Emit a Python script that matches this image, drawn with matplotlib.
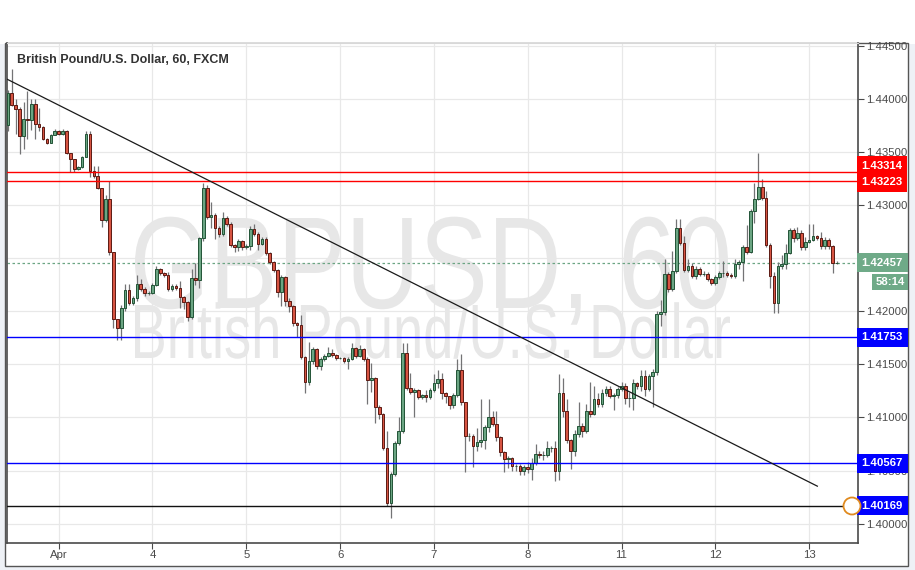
import numpy as np
import matplotlib
matplotlib.use("Agg")
import matplotlib.pyplot as plt
from matplotlib.patches import Rectangle, PathPatch, Circle
from matplotlib.textpath import TextPath
from matplotlib.font_manager import FontProperties
from matplotlib.transforms import Affine2D, blended_transform_factory

# GBPUSD hourly candles, Mar 31 - Apr 13 (weekend skipped)
first_open = 1.4375
closes = [
    1.4405, 1.4394, 1.4390, 1.4365, 1.4381, 1.4380, 1.4395, 1.4376, 1.4373, 1.4362,
    1.4358, 1.4366, 1.4370, 1.4367, 1.4370, 1.4349, 1.4343, 1.4334, 1.4336, 1.4345,
    1.4367, 1.4332, 1.4327, 1.4316, 1.4286, 1.4306, 1.4256, 1.4193, 1.4184, 1.4203,
    1.4220, 1.4208, 1.4212, 1.4226, 1.4221, 1.4217, 1.4217, 1.4225, 1.4240, 1.4236,
    1.4234, 1.4221, 1.4224, 1.4222, 1.4213, 1.4209, 1.4195, 1.4231, 1.4229, 1.4269,
    1.4316, 1.4289, 1.4291, 1.4278, 1.4273, 1.4288, 1.4282, 1.4262, 1.4260, 1.4266,
    1.4260, 1.4261, 1.4277, 1.4273, 1.4263, 1.4268, 1.4255, 1.4246, 1.4239, 1.4218,
    1.4232, 1.4210, 1.4205, 1.4189, 1.4187, 1.4157, 1.4133, 1.4153, 1.4164, 1.4148,
    1.4155, 1.4158, 1.4161, 1.4159, 1.4156, 1.4156, 1.4153, 1.4155, 1.4165, 1.4158,
    1.4164, 1.4155, 1.4135, 1.4137, 1.4110, 1.4103, 1.4071, 1.4019, 1.4047, 1.4076,
    1.4087, 1.4161, 1.4128, 1.4124, 1.4126, 1.4119, 1.4121, 1.4119, 1.4126, 1.4132,
    1.4136, 1.4123, 1.4120, 1.4112, 1.4121, 1.4145, 1.4115, 1.4083, 1.4083, 1.4073,
    1.4077, 1.4079, 1.4091, 1.4100, 1.4094, 1.4082, 1.4067, 1.4061, 1.4062, 1.4054,
    1.4054, 1.4050, 1.4053, 1.4051, 1.4057, 1.4066, 1.4065, 1.4065, 1.4071, 1.4071,
    1.4050, 1.4123, 1.4106, 1.4079, 1.4068, 1.4084, 1.4092, 1.4087, 1.4106, 1.4103,
    1.4117, 1.4113, 1.4123, 1.4127, 1.4120, 1.4121, 1.4127, 1.4130, 1.4118, 1.4118,
    1.4132, 1.4130, 1.4139, 1.4127, 1.4139, 1.4143, 1.4197, 1.4199, 1.4235, 1.4221,
    1.4238, 1.4278, 1.4264, 1.4239, 1.4243, 1.4233, 1.4240, 1.4235, 1.4235, 1.4230,
    1.4227, 1.4232, 1.4236, 1.4236, 1.4234, 1.4233, 1.4244, 1.4246, 1.4260, 1.4256,
    1.4294, 1.4306, 1.4317, 1.4307, 1.4262, 1.4233, 1.4208, 1.4243, 1.4244, 1.4255,
    1.4276, 1.4269, 1.4274, 1.4260, 1.4265, 1.4267, 1.4271, 1.4269, 1.4261, 1.4267,
    1.4261, 1.4245, 1.42457]
highs = [
    1.4408, 1.4428, 1.4400, 1.4392, 1.4397, 1.4407, 1.4400, 1.4400, 1.4391, 1.4374,
    1.4363, 1.4367, 1.4372, 1.4371, 1.4372, 1.4371, 1.4349, 1.4343, 1.4337, 1.4346,
    1.4370, 1.4370, 1.4337, 1.4337, 1.4316, 1.4309, 1.4323, 1.4256, 1.4193, 1.4206,
    1.4226, 1.4226, 1.4214, 1.4234, 1.4230, 1.4223, 1.4219, 1.4227, 1.4243, 1.4241,
    1.4237, 1.4237, 1.4226, 1.4226, 1.4228, 1.4214, 1.4210, 1.4240, 1.4245, 1.4270,
    1.4321, 1.4319, 1.4303, 1.4292, 1.4280, 1.4293, 1.4290, 1.4284, 1.4263, 1.4268,
    1.4267, 1.4263, 1.4280, 1.4282, 1.4275, 1.4270, 1.4270, 1.4256, 1.4247, 1.4240,
    1.4234, 1.4233, 1.4212, 1.4206, 1.4190, 1.4196, 1.4158, 1.4171, 1.4166, 1.4165,
    1.4157, 1.4160, 1.4166, 1.4164, 1.4160, 1.4157, 1.4157, 1.4157, 1.4170, 1.4166,
    1.4168, 1.4165, 1.4157, 1.4151, 1.4138, 1.4112, 1.4104, 1.4087, 1.4049, 1.4078,
    1.4100, 1.4170, 1.4170, 1.4142, 1.4128, 1.4127, 1.4122, 1.4126, 1.4128, 1.4141,
    1.4145, 1.4142, 1.4124, 1.4120, 1.4123, 1.4155, 1.4160, 1.4115, 1.4085, 1.4084,
    1.4090, 1.4117, 1.4093, 1.4117, 1.4106, 1.4106, 1.4083, 1.4068, 1.4064, 1.4063,
    1.4056, 1.4056, 1.4055, 1.4058, 1.4062, 1.4075, 1.4068, 1.4068, 1.4078, 1.4073,
    1.4078, 1.4141, 1.4137, 1.4117, 1.4080, 1.4088, 1.4115, 1.4095, 1.4113, 1.4133,
    1.4130, 1.4123, 1.4127, 1.4130, 1.4130, 1.4123, 1.4129, 1.4133, 1.4132, 1.4124,
    1.4136, 1.4133, 1.4145, 1.4145, 1.4141, 1.4146, 1.4200, 1.4211, 1.4249, 1.4237,
    1.4257, 1.4287, 1.4287, 1.4271, 1.4249, 1.4245, 1.4243, 1.4242, 1.4238, 1.4237,
    1.4231, 1.4234, 1.4238, 1.4247, 1.4238, 1.4236, 1.4249, 1.4248, 1.4262, 1.4281,
    1.4296, 1.4321, 1.4349, 1.4324, 1.4313, 1.4264, 1.4237, 1.4246, 1.4253, 1.4263,
    1.4278, 1.4278, 1.4279, 1.4276, 1.4270, 1.4282, 1.4282, 1.4272, 1.4275, 1.4270,
    1.4269, 1.4262, 1.4247]
lows = [
    1.4370, 1.4393, 1.4367, 1.4348, 1.4353, 1.4362, 1.4371, 1.4362, 1.4370, 1.4361,
    1.4357, 1.4358, 1.4366, 1.4366, 1.4366, 1.4348, 1.4331, 1.4331, 1.4333, 1.4335,
    1.4345, 1.4326, 1.4325, 1.4315, 1.4279, 1.4284, 1.4253, 1.4184, 1.4173, 1.4173,
    1.4200, 1.4206, 1.4206, 1.4210, 1.4219, 1.4214, 1.4215, 1.4216, 1.4224, 1.4234,
    1.4232, 1.4219, 1.4219, 1.4220, 1.4203, 1.4202, 1.4191, 1.4193, 1.4225, 1.4222,
    1.4266, 1.4287, 1.4278, 1.4268, 1.4270, 1.4271, 1.4280, 1.4260, 1.4256, 1.4257,
    1.4258, 1.4259, 1.4258, 1.4271, 1.4258, 1.4262, 1.4253, 1.4244, 1.4237, 1.4213,
    1.4205, 1.4205, 1.4199, 1.4186, 1.4176, 1.4155, 1.4123, 1.4131, 1.4150, 1.4146,
    1.4145, 1.4153, 1.4157, 1.4157, 1.4154, 1.4155, 1.4151, 1.4146, 1.4154, 1.4156,
    1.4157, 1.4153, 1.4113, 1.4124, 1.4095, 1.4099, 1.4069, 1.4017, 1.4005, 1.4045,
    1.4074, 1.4085, 1.4126, 1.4122, 1.4100, 1.4117, 1.4117, 1.4115, 1.4117, 1.4124,
    1.4128, 1.4117, 1.4114, 1.4108, 1.4109, 1.4119, 1.4112, 1.4049, 1.4078, 1.4053,
    1.4068, 1.4072, 1.4070, 1.4086, 1.4092, 1.4078, 1.4064, 1.4049, 1.4052, 1.4050,
    1.4050, 1.4046, 1.4046, 1.4048, 1.4041, 1.4055, 1.4062, 1.4060, 1.4063, 1.4067,
    1.4040, 1.4041, 1.4100, 1.4076, 1.4051, 1.4064, 1.4082, 1.4082, 1.4085, 1.4100,
    1.4102, 1.4110, 1.4110, 1.4120, 1.4118, 1.4107, 1.4118, 1.4125, 1.4113, 1.4110,
    1.4107, 1.4127, 1.4125, 1.4120, 1.4125, 1.4110, 1.4140, 1.4186, 1.4196, 1.4218,
    1.4219, 1.4236, 1.4262, 1.4237, 1.4237, 1.4231, 1.4230, 1.4233, 1.4233, 1.4228,
    1.4225, 1.4225, 1.4230, 1.4232, 1.4232, 1.4231, 1.4231, 1.4240, 1.4228, 1.4254,
    1.4255, 1.4283, 1.4305, 1.4305, 1.4260, 1.4222, 1.4198, 1.4198, 1.4240, 1.4240,
    1.4254, 1.4265, 1.4267, 1.4258, 1.4258, 1.4264, 1.4266, 1.4267, 1.4259, 1.4259,
    1.4259, 1.4236, 1.4244]

# day labels and the candle index where each day starts
day_labels = ["Apr", "4", "5", "6", "7", "8", "11", "12", "13"]
day_index = [13, 37, 61, 85, 109, 133, 157, 181, 205]

# drawn levels
red_levels = [1.43314, 1.43223]
blue_levels = [1.41753, 1.40567]
black_level = 1.40169
last_price = 1.42457
countdown = "58:14"
trend_x = [-0.25, 207.1]
trend_y = [1.44185, 1.40353]

price_ticks = [1.400, 1.405, 1.410, 1.415, 1.420, 1.425, 1.430, 1.435, 1.440, 1.445]

W, H = 915, 570
UP, UP_EDGE = "#6ba583", "#225437"
DN, DN_EDGE = "#d75442", "#5b1a13"
GREEN_TAG = "#6faa88"

fig = plt.figure(figsize=(W / 100, H / 100), dpi=100, facecolor="#eef1f6")
# white chart panel (behind the axes)
fig.patches.append(Rectangle((0, 1 - 44 / H), 1, 44 / H, transform=fig.transFigure,
                             fc="white", ec="none", zorder=-2))
fig.patches.append(Rectangle((5 / W, 4 / H), 903 / W, (566 - 43) / H, transform=fig.transFigure,
                             fc="white", ec="#555555", lw=1.0, zorder=-1))

ax = fig.add_axes([6.7 / W, 1 - 543 / H, (858 - 6.7) / W, (543 - 43) / H])
ax.set_facecolor("white")
ax.set_xlim(-0.3, 217.5)
ax.set_ylim(1.39818, 1.44525)

o = np.array([first_open] + closes[:-1])
c = np.array(closes)
hi = np.maximum(np.array(highs), np.maximum(o, c))
lo = np.minimum(np.array(lows), np.minimum(o, c))
x = np.arange(len(c))
up = c >= o

ax.vlines(x, lo, hi, color="#737375", lw=0.9, zorder=3)
ax.bar(x[up], (c - o)[up], bottom=o[up], width=0.68, color=UP, edgecolor=UP_EDGE,
       lw=0.7, zorder=4)
ax.bar(x[~up], (o - c)[~up], bottom=c[~up], width=0.68, color=DN, edgecolor=DN_EDGE,
       lw=0.7, zorder=4)

# watermark
wm_font = FontProperties(family="Liberation Sans")


def watermark(text, x0, x1, top, base):
    tp = TextPath((0, 0), text, size=1, prop=wm_font)
    bb = tp.get_extents()
    cap = TextPath((0, 0), "H", size=1, prop=wm_font).get_extents().y1
    tr = (Affine2D().translate(-bb.x0, 0)
          .scale((x1 - x0) / bb.width, (base - top) / cap)
          .translate(x0, H - base).scale(1 / W, 1 / H))
    ax.add_patch(PathPatch(tr.transform_path(tp), transform=fig.transFigure,
                           fc="#e7e7e7", ec="none", zorder=1))


watermark("GBPUSD, 60", 135, 728, 218, 308)
watermark("British Pound/U.S. Dollar", 135, 730, 305, 358)

# grid
ax.set_yticks(price_ticks)
ax.set_xticks(day_index)
ax.grid(True, color="#e8e8e8", lw=0.9, zorder=0)
ax.set_axisbelow(True)

# levels and trend line
for lv in red_levels:
    ax.axhline(lv, color="#ff0000", lw=1.0, zorder=5)
for lv in blue_levels:
    ax.axhline(lv, color="#0000ff", lw=1.0, zorder=5)
ax.axhline(black_level, color="#111111", lw=1.0, zorder=5)
ax.axhline(last_price, color=UP, lw=0.9, ls=(0, (2, 2)), zorder=2)
ax.plot(trend_x, trend_y, color="#1a1a1a", lw=0.9, zorder=5)

# axes styling
for side in ["left", "right", "bottom"]:
    ax.spines[side].set_color("#4a4a4a")
    ax.spines[side].set_linewidth(1.2)
ax.spines["top"].set_color("#d8d8d8")
ax.yaxis.tick_right()
# the 1.42500 label sits under the last-price tag in the reference
ax.set_yticklabels(["" if abs(p - 1.425) < 1e-9 else "%.5f" % p for p in price_ticks])
ax.set_xticklabels(day_labels)
ax.tick_params(axis="y", colors="#4a4a4a", labelsize=8.2, length=4, width=0.8, pad=2)
ax.tick_params(axis="x", colors="#4a4a4a", labelsize=8.2, length=4, width=0.8, pad=1)
for lab in ax.get_xticklabels() + ax.get_yticklabels():
    lab.set_family("Liberation Sans")
    lab.set_color("#4a4a4a")

# price tags on the right scale (the two close red tags are pushed apart, in pixels)
tag_tr = blended_transform_factory(ax.transAxes, ax.transData)
tags = [(red_levels[0], "#ff0000", -6), (red_levels[1], "#ff0000", 1),
        (blue_levels[0], "#0000ff", 0), (blue_levels[1], "#0000ff", 0),
        (black_level, "#0000ff", 0), (last_price, GREEN_TAG, 0)]
for p, col, dy in tags:
    ax.annotate("%.5f" % p, xy=(1.0, p), xycoords=tag_tr, xytext=(3.5, -dy),
                textcoords="offset pixels", ha="left", va="center",
                fontsize=8.2, fontweight="bold", color="white", family="Liberation Sans",
                bbox=dict(boxstyle="square,pad=0.42", fc=col, ec="none"), zorder=10,
                annotation_clip=False)
fig.text(905 / W, 1 - 282 / H, countdown, ha="right", va="center", fontsize=8.2,
         fontweight="bold", color="white", family="Liberation Sans",
         bbox=dict(boxstyle="square,pad=0.3", fc=GREEN_TAG, ec="none"))

# alert marker near the black line
fig.patches.append(Circle((852 / 100, (H - 506) / 100), 0.085, transform=fig.dpi_scale_trans,
                          fc="white", ec="#e08a1e", lw=1.3, zorder=6))

# chart title
ax.text(10.5 / 851, 1 - 17 / 500, "British Pound/U.S. Dollar, 60, FXCM", transform=ax.transAxes,
        ha="left", va="center", fontsize=9.0, color="#333333", fontweight="bold",
        family="Liberation Sans", zorder=11)

fig.savefig("out.png", dpi=100, facecolor=fig.get_facecolor())
